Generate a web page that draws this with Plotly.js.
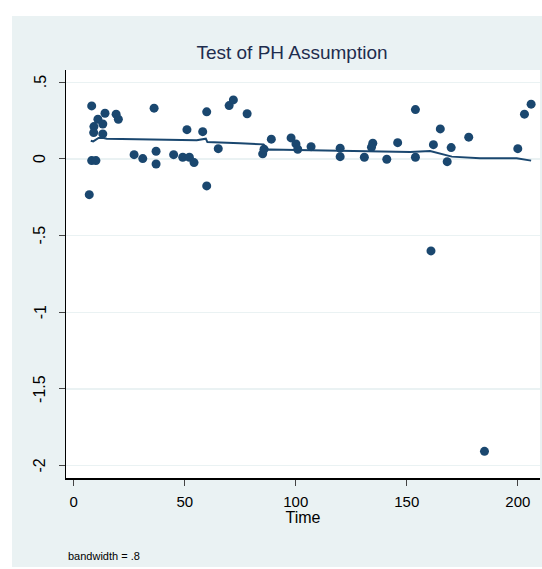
<!DOCTYPE html>
<html>
<head>
<meta charset="utf-8">
<script src="https://cdn.plot.ly/plotly-3.0.1.min.js"></script>
<style>
  html, body { margin: 0; padding: 0; background: #ffffff; width: 542px; height: 569px; overflow: hidden; }
  #chart { position: absolute; left: 12px; top: 16px; width: 530px; height: 551px; }
</style>
</head>
<body>
<div id="chart"></div>
<script>
// Scaled Schoenfeld residuals vs time
const timeVals = [8.1, 9.1, 9.0, 10.9, 13.1, 14.1, 13.1, 19.1, 20.1, 36.2,
  8.1, 10.0, 7.0, 27.2, 31.1, 37.1, 37.1, 45.0, 49.1, 52.1,
  54.2, 51.0, 58.1, 59.9, 59.9, 65.1, 70.0, 71.9, 78.1, 89.0,
  85.1, 85.7, 97.9, 100.1, 100.9, 106.9, 120.0, 120.0, 130.9, 134.7,
  134.1, 141.0, 145.9, 153.9, 153.9, 162.0, 165.1, 170.0, 168.2, 177.9,
  200.0, 203.0, 206.0, 160.9, 185.0];
const residVals = [0.346, 0.211, 0.172, 0.259, 0.228, 0.298, 0.163, 0.292, 0.259, 0.331,
  -0.011, -0.011, -0.233, 0.028, 0.002, 0.050, -0.033, 0.028, 0.011, 0.011,
  -0.024, 0.191, 0.178, 0.307, -0.176, 0.067, 0.348, 0.385, 0.295, 0.129,
  0.033, 0.063, 0.137, 0.098, 0.063, 0.080, 0.070, 0.015, 0.011, 0.102,
  0.076, -0.002, 0.106, 0.322, 0.011, 0.093, 0.196, 0.074, -0.018, 0.142,
  0.067, 0.292, 0.357, -0.600, -1.907];

// Lowess smooth (bandwidth = .8)
const smoothTime = [7.7, 8.8, 11.2, 13.0, 14.9, 23.9, 38.0, 51.3, 55.4, 59.5,
  60.2, 74.9, 83.9, 85.5, 87.7, 88.4, 100.5, 124.5, 151.5, 160.5,
  164.2, 170.3, 183.0, 199.5, 206.0];
const smoothVals = [0.119, 0.114, 0.137, 0.138, 0.132, 0.130, 0.124, 0.119, 0.122, 0.132,
  0.110, 0.102, 0.098, 0.095, 0.060, 0.062, 0.059, 0.052, 0.046, 0.052,
  0.037, 0.015, 0.005, 0.005, -0.011];

const xTicks = [0, 50, 100, 150, 200];
const yTicks = [0.5, 0, -0.5, -1, -1.5, -2];
const yTickText = ['.5', '0', '-.5', '-1', '-1.5', '-2'];

const navy = '#1a476f';
const panel = '#EAF2F3';
const font = 'Liberation Sans, Arial, sans-serif';

const traces = [
  {
    type: 'scatter', mode: 'markers', x: timeVals, y: residVals,
    marker: { color: navy, size: 9, line: { width: 0 } },
    hoverinfo: 'x+y', showlegend: false
  },
  {
    type: 'scatter', mode: 'lines', x: smoothTime, y: smoothVals,
    line: { color: navy, width: 2 },
    hoverinfo: 'x+y', showlegend: false
  }
];

// Y tick labels placed as rotated annotations on the y scale (Stata style)
const yLabelAnns = yTicks.map((v, i) => ({
  text: yTickText[i], xref: 'paper', yref: 'y',
  x: (40 - 66) / 474, y: v, xanchor: 'center', yanchor: 'middle',
  textangle: -90, showarrow: false,
  font: { family: font, size: 16, color: '#000000' }
}));

const layout = {
  width: 530, height: 551,
  margin: { l: 54, r: 2, t: 54, b: 89, pad: 0 },
  paper_bgcolor: panel,
  plot_bgcolor: '#ffffff',
  font: { family: font, color: '#000000', size: 16 },
  showlegend: false,
  title: {
    text: 'Test of PH Assumption',
    font: { family: font, size: 19, color: '#1e2d4e' },
    x: (292 - 66) / 474, xref: 'paper', xanchor: 'center',
    y: 1 - 36 / 551, yref: 'container', yanchor: 'middle'
  },
  xaxis: {
    range: [-3.47, 210.0],
    tickvals: xTicks,
    ticktext: xTicks.map(String),
    ticks: 'outside', ticklen: 6, tickwidth: 1, tickcolor: '#444444',
    showline: true, linecolor: '#000000', linewidth: 1.5,
    showgrid: false, zeroline: false,
    tickfont: { family: font, size: 15, color: '#000000' },
    ticklabelstandoff: 3,
    title: { text: 'Time', font: { family: font, size: 16, color: '#000000' }, standoff: 2 },
    fixedrange: true
  },
  yaxis: {
    range: [-2.081, 0.58],
    tickvals: yTicks,
    showticklabels: false,
    ticks: 'outside', ticklen: 6, tickwidth: 1, tickcolor: '#444444',
    showline: true, linecolor: '#000000', linewidth: 1.5,
    showgrid: true, gridcolor: panel, gridwidth: 1.5,
    zeroline: false,
    fixedrange: true
  },
  annotations: yLabelAnns.concat([
    {
      text: 'bandwidth = .8', xref: 'paper', yref: 'paper',
      x: 0, y: (478 - 556) / 408, xanchor: 'left', yanchor: 'middle',
      showarrow: false, font: { family: font, size: 11, color: '#000000' }
    }
  ])
};

Plotly.newPlot('chart', traces, layout, { displayModeBar: false, staticPlot: true });
</script>
</body>
</html>
